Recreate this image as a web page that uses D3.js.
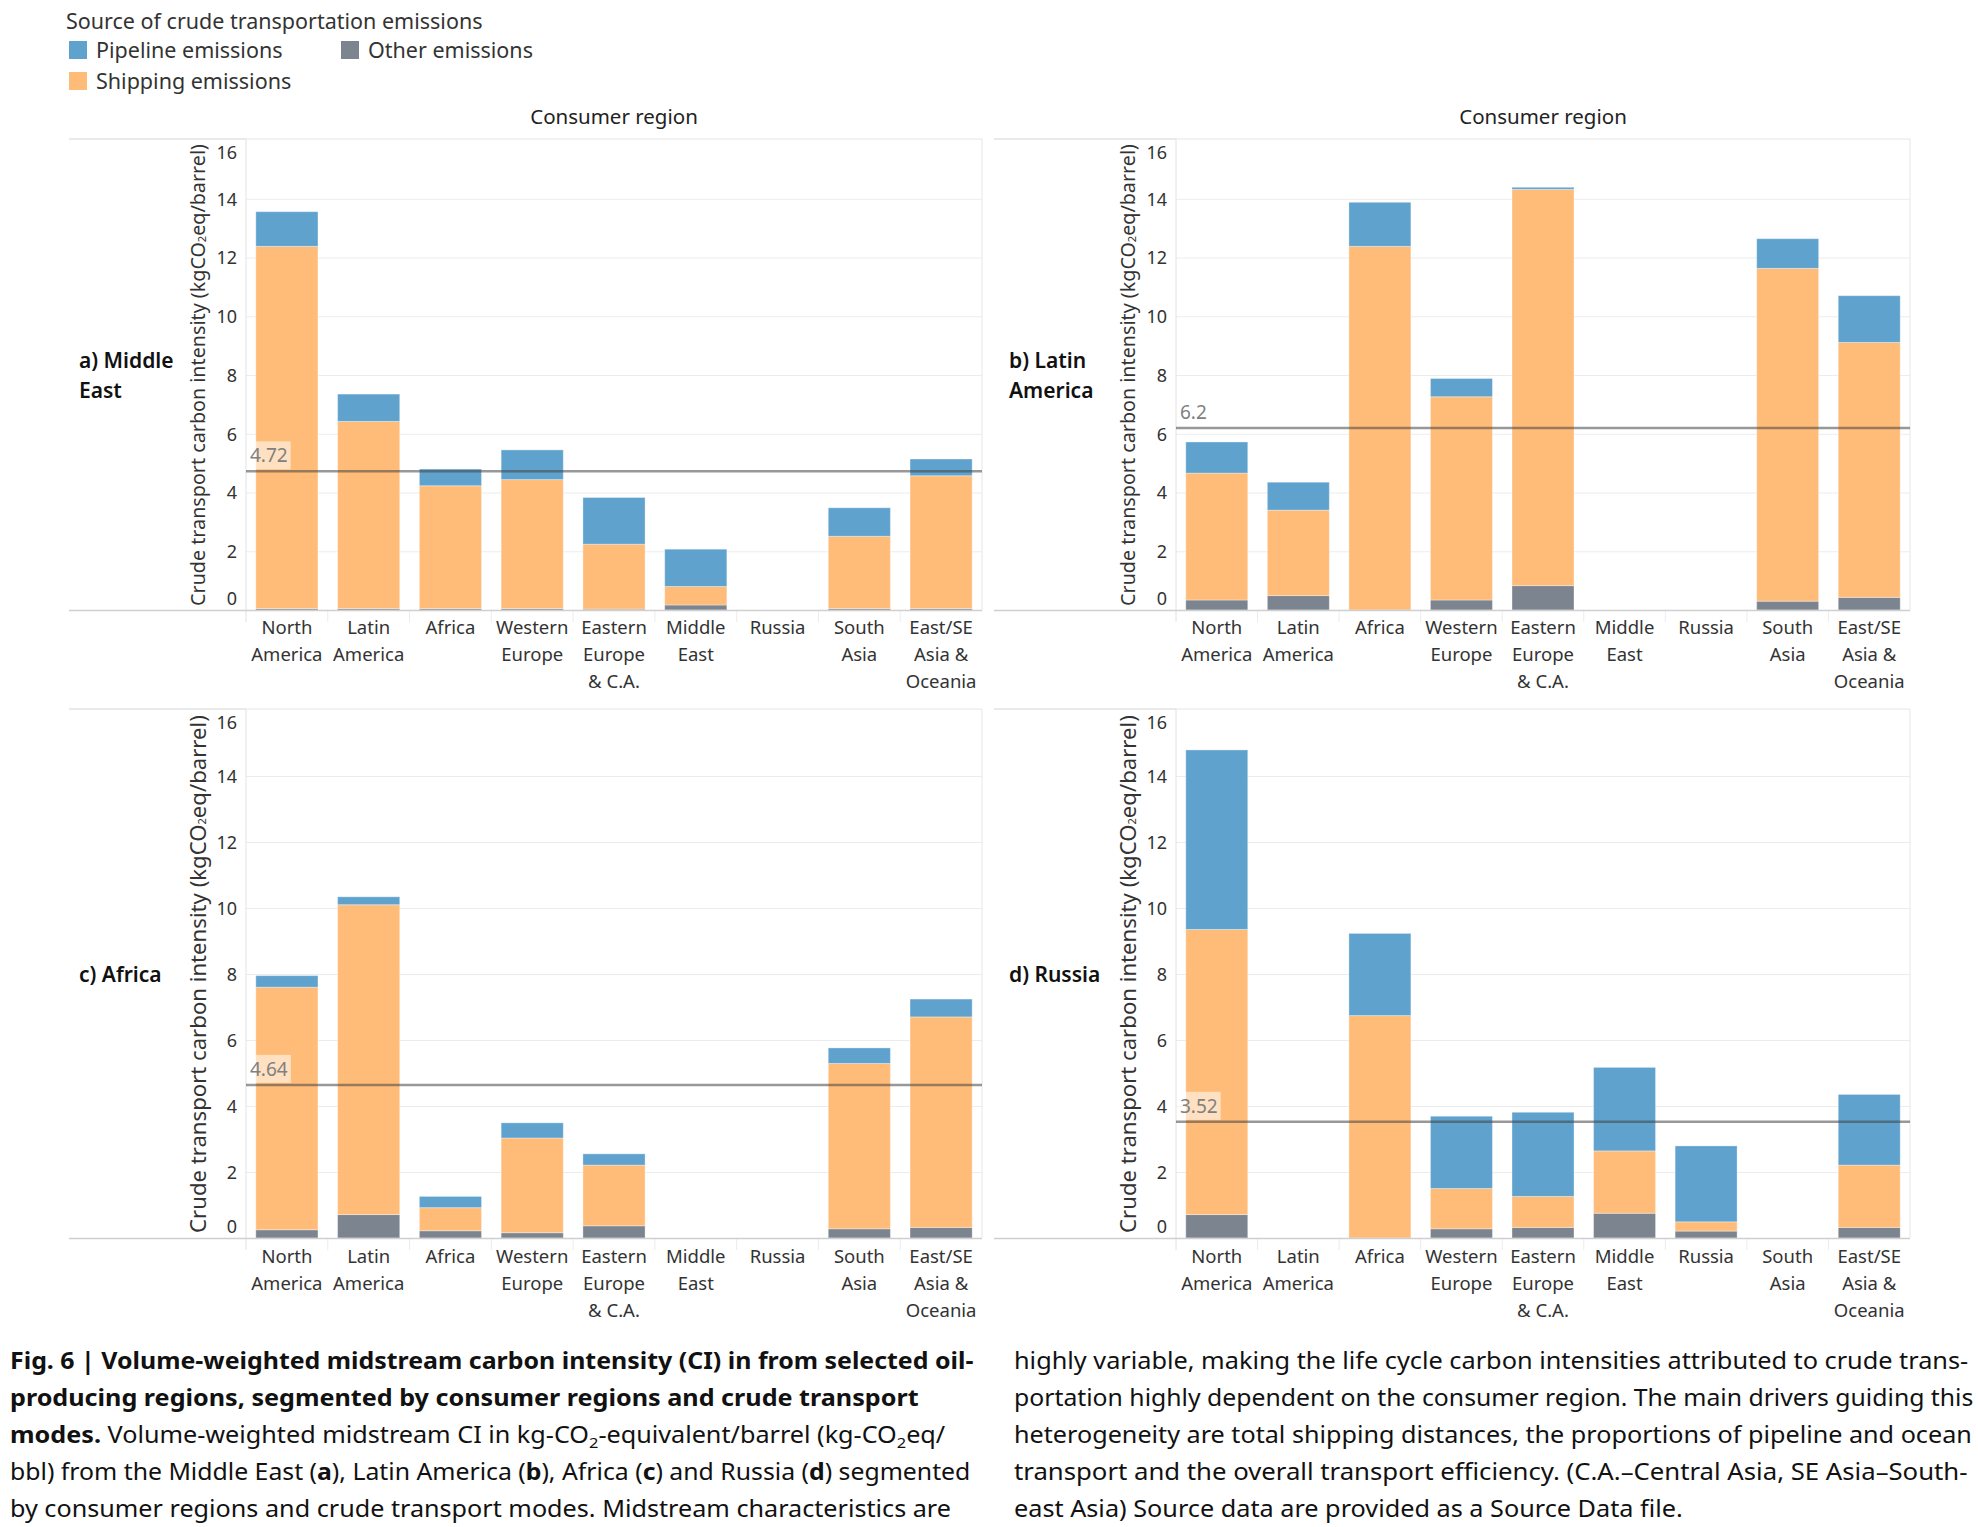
<!DOCTYPE html>
<html><head><meta charset="utf-8">
<script src="https://cdn.jsdelivr.net/npm/d3@7"></script>
<style>body{margin:0;background:#fff} svg{display:block}</style>
</head><body><svg id="c" width="1978" height="1527"></svg>
<script>
// ---------------- DATA ----------------
const categories = ["North America","Latin America","Africa","Western Europe","Eastern Europe & C.A.","Middle East","Russia","South Asia","East/SE Asia & Oceania"];
const categoryLabelLines = [["North","America"],["Latin","America"],["Africa"],["Western","Europe"],["Eastern","Europe","& C.A."],["Middle","East"],["Russia"],["South","Asia"],["East/SE","Asia &","Oceania"]];
const seriesKeys = ["other","shipping","pipeline"];
const seriesNames = ["Other emissions","Shipping emissions","Pipeline emissions"];
const yTicks = [0,2,4,6,8,10,12,14,16];

const producerLabels = [["a) Middle","East"],["b) Latin","America"],["c) Africa"],["d) Russia"]];
const averageCI = [4.72, 6.2, 4.64, 3.52];

// a) Middle East
const meOther    = [0.05,0.05,0.05,0.05,0.03,0.17,null,0.05,0.05];
const meShipping = [12.33,6.37,4.18,4.39,2.21,0.63,null,2.46,4.52];
const mePipeline = [1.18,0.93,0.57,1.01,1.59,1.27,null,0.97,0.57];
// b) Latin America
const laOther    = [0.34,0.49,0.00,0.34,0.83,null,null,0.30,0.43];
const laShipping = [4.32,2.91,12.38,6.92,13.49,null,null,11.33,8.68];
const laPipeline = [1.06,0.95,1.50,0.62,0.07,null,null,1.01,1.59];
// c) Africa
const afOther    = [0.25,0.71,0.22,0.16,0.37,null,null,0.28,0.32];
const afShipping = [7.35,9.39,0.70,2.87,1.84,null,null,5.01,6.38];
const afPipeline = [0.35,0.24,0.34,0.46,0.34,null,null,0.47,0.54];
// d) Russia
const ruOther    = [0.71,null,0.00,0.28,0.32,0.75,0.21,null,0.32];
const ruShipping = [8.64,null,6.74,1.22,0.94,1.89,0.28,null,1.89];
const ruPipeline = [5.44,null,2.49,2.19,2.55,2.53,2.30,null,2.14];

const panelSeries = [
  [meOther, meShipping, mePipeline],
  [laOther, laShipping, laPipeline],
  [afOther, afShipping, afPipeline],
  [ruOther, ruShipping, ruPipeline]
];

const colors = {pipeline:"#5fa2ce", shipping:"#ffbc79", other:"#7b848f"};

// ---------------- LAYOUT ----------------
const svg = d3.select("#c");
const FONT = "'Noto Sans', 'Open Sans', sans-serif";
const cols = [{hdr:69, x0:246, x1:982, lab:79}, {hdr:994, x0:1176, x1:1910, lab:1009}];
const rows = [{top:140, base:610, xl:634}, {top:710, base:1238, xl:1263}];

// Legend
const lg = svg.append("g").attr("font-family", FONT).attr("fill","#333");
lg.append("text").attr("x",66).attr("y",29).attr("font-size",21.5).text("Source of crude transportation emissions");
const legendItems = [
  {key:"pipeline", name:"Pipeline emissions", x:69, y:41},
  {key:"other", name:"Other emissions", x:341, y:41},
  {key:"shipping", name:"Shipping emissions", x:69, y:72}
];
legendItems.forEach(d=>{
  lg.append("rect").attr("x",d.x).attr("y",d.y).attr("width",18).attr("height",18).attr("fill",colors[d.key]);
  lg.append("text").attr("x",d.x+27).attr("y",d.y+17).attr("font-size",21.5).text(d.name);
});

// Panels
panelSeries.forEach((ser, pi) => {
  const c = cols[pi % 2], r = rows[Math.floor(pi/2)];
  const g = svg.append("g").attr("font-family", FONT);
  const x = d3.scaleBand().domain(categories).range([c.x0, c.x1]).paddingInner(0.24).paddingOuter(0.12);
  const y = d3.scaleLinear().domain([0,16]).range([r.base, r.top]);

  // header
  if (pi < 2) {
    g.append("text").attr("x",(c.x0+c.x1)/2).attr("y",124).attr("text-anchor","middle")
      .attr("font-size",20.5).attr("fill","#222").text("Consumer region");
  }
  // gridlines
  g.append("g").attr("transform",`translate(${c.x0},0)`)
    .call(d3.axisLeft(y).tickValues(yTicks.filter(v=>v>0 && v<16)).tickSize(-(c.x1-c.x0)).tickFormat(""))
    .call(s=>{s.select(".domain").remove(); s.selectAll("line").attr("stroke","#ececec");});

  // frame lines
  g.append("line").attr("x1",c.hdr).attr("x2",c.x0).attr("y1",r.top-1).attr("y2",r.top-1).attr("stroke","#d4d4d4");
  g.append("line").attr("x1",c.x0).attr("x2",c.x1).attr("y1",r.top-1).attr("y2",r.top-1).attr("stroke","#e6e6e6");
  g.append("line").attr("x1",c.x1).attr("x2",c.x1).attr("y1",r.top-1).attr("y2",r.base).attr("stroke","#e6e6e6");
  g.append("line").attr("x1",c.x0).attr("x2",c.x0).attr("y1",r.top-1).attr("y2",r.base+12).attr("stroke","#e2e2e2");
  // band dividers under axis
  categories.slice(1).forEach(cat=>{
    const xx = x(cat) - x.step()*x.paddingInner()/2;
    g.append("line").attr("x1",xx).attr("x2",xx).attr("y1",r.base).attr("y2",r.base+12).attr("stroke","#ececec");
  });

  // data
  const rowsData = categories.map((cat,i)=>({cat, other:ser[0][i]||0, shipping:ser[1][i]||0, pipeline:ser[2][i]||0}));
  const stack = d3.stack().keys(seriesKeys)(rowsData);
  stack.forEach(layer=>{
    g.append("g").selectAll("rect").data(layer.filter(d=>d[1]-d[0]>0)).join("rect")
      .attr("x", d=>x(d.data.cat)).attr("width", x.bandwidth())
      .attr("y", d=>y(d[1])).attr("height", d=>y(d[0])-y(d[1]))
      .attr("fill", colors[layer.key])
      .attr("stroke","#ffffff").attr("stroke-opacity",0.35).attr("stroke-width",1);
  });

  // baseline
  g.append("line").attr("x1",c.hdr).attr("x2",c.x1).attr("y1",r.base+0.5).attr("y2",r.base+0.5).attr("stroke","#cfcfcf").attr("stroke-width",1.5);

  // reference line (average)
  const av = averageCI[pi];
  g.append("line").attr("x1",c.x0).attr("x2",c.x1).attr("y1",y(av)).attr("y2",y(av))
    .attr("stroke","#444").attr("stroke-opacity",0.55).attr("stroke-width",2.5);
  const lbl = g.append("g");
  const lt = lbl.append("text").attr("x",c.x0+4).attr("y",y(av)-9).attr("font-size",19).attr("fill","#808080").text(String(av));
  const bb = lt.node().getBBox();
  lbl.insert("rect","text").attr("x",bb.x-3).attr("y",bb.y-1).attr("width",bb.width+6).attr("height",bb.height+2)
    .attr("fill","#fff").attr("fill-opacity",0.55);

  // y axis ticks
  const ya = g.append("g").attr("transform",`translate(${c.x0-9},0)`)
    .call(d3.axisLeft(y).tickValues(yTicks).tickSize(0).tickPadding(0));
  ya.select(".domain").remove();
  ya.selectAll("text").attr("font-size",18).attr("fill","#333").attr("font-family",FONT)
    .attr("dy", d=> d===16 ? "1.05em" : d===0 ? "-0.3em" : "0.35em");

  // y axis title
  const ttl = g.append("text").attr("transform",`translate(${c.x0-49},${(r.top+r.base)/2}) rotate(-90)`)
    .attr("text-anchor","middle").attr("dominant-baseline","central").attr("font-size",17).attr("fill","#333");
  ttl.append("tspan").text("Crude transport carbon intensity (kgCO");
  ttl.append("tspan").attr("font-size",11).attr("dy",4).text("2");
  ttl.append("tspan").attr("dy",-4).text("eq/barrel)");
  const tl = ttl.node().getComputedTextLength();
  const target = (r.base - r.top) * 0.985;
  ttl.attr("font-size", 17*target/tl);

  // x labels
  const xa = g.append("g");
  categories.forEach((cat,i)=>{
    const t = xa.append("text").attr("x", x(cat)+x.bandwidth()/2).attr("y", r.xl).attr("text-anchor","middle")
      .attr("font-size",18.5).attr("fill","#333");
    categoryLabelLines[i].forEach((ln,k)=>t.append("tspan").attr("x", x(cat)+x.bandwidth()/2).attr("dy", k===0?0:27).text(ln));
  });

  // producer label
  const pl = producerLabels[pi];
  const cy = (r.top + r.base)/2 + 1 - (pl.length-1)*15;
  const pt = g.append("text").attr("x",c.lab).attr("y",cy).attr("font-size",21).attr("font-weight",600).attr("fill","#111");
  pl.forEach((ln,k)=>pt.append("tspan").attr("x",c.lab).attr("dy",k===0?"0.35em":30).text(ln));
});

// ---------------- CAPTION ----------------
const capLines = [
  {x:10, y:1369, w:964, segs:[["Fig. 6 | Volume-weighted midstream carbon intensity (CI) in from selected oil-","b"]]},
  {x:10, y:1406, w:909, segs:[["producing regions, segmented by consumer regions and crude transport","b"]]},
  {x:10, y:1443, w:936, segs:[["modes.","b"],[" Volume-weighted midstream CI in kg-CO",""],["2","s"],["-equivalent/barrel (kg-CO",""],["2","s"],["eq/",""]]},
  {x:10, y:1480, w:961, segs:[["bbl) from the Middle East (",""],["a","b"],["), Latin America (",""],["b","b"],["), Africa (",""],["c","b"],[") and Russia (",""],["d","b"],[") segmented",""]]},
  {x:10, y:1517, w:941, segs:[["by consumer regions and crude transport modes. Midstream characteristics are",""]]},
  {x:1014, y:1369, w:955, segs:[["highly variable, making the life cycle carbon intensities attributed to crude trans-",""]]},
  {x:1014, y:1406, w:960, segs:[["portation highly dependent on the consumer region. The main drivers guiding this",""]]},
  {x:1014, y:1443, w:958, segs:[["heterogeneity are total shipping distances, the proportions of pipeline and ocean",""]]},
  {x:1014, y:1480, w:954, segs:[["transport and the overall transport efficiency. (C.A.\u2013Central Asia, SE Asia\u2013South-",""]]},
  {x:1014, y:1517, w:669, segs:[["east Asia) Source data are provided as a Source Data file.",""]]}
];
const cap = svg.append("g").attr("font-family","'Noto Sans', sans-serif").attr("fill","#111");
capLines.forEach(L=>{
  const t = cap.append("text").attr("x",0).attr("y",0).attr("font-size",23);
  let shifted = false;
  L.segs.forEach(([txt,st])=>{
    const ts = t.append("tspan").text(txt);
    if (st==="b") ts.attr("font-weight",700);
    if (st==="s") { ts.attr("font-size",15).attr("dy",5); shifted = true; }
    else if (shifted) { ts.attr("dy",-5); shifted = false; }
  });
  const w = t.node().getComputedTextLength();
  t.attr("transform",`translate(${L.x},${L.y}) scale(${L.w/w},1)`);
});
</script></body></html>
